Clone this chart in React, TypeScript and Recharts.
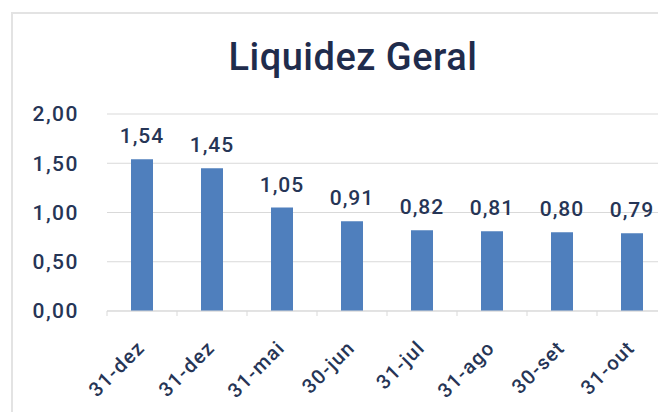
import { BarChart, Bar, XAxis, YAxis, CartesianGrid, LabelList } from 'recharts';

const categories = ['31-dez', '31-dez', '31-mai', '30-jun', '31-jul', '31-ago', '30-set', '31-out'];
const liquidez = [1.54, 1.45, 1.05, 0.91, 0.82, 0.81, 0.8, 0.79];
const yTicks = [0, 0.5, 1, 1.5, 2];

const data = categories.map((name, i) => ({ name, value: liquidez[i] }));

const CHART_W = 700;
const CHART_H = 412;
const PLOT_LEFT = 107;
const PLOT_RIGHT = 667;
const BAND = (PLOT_RIGHT - PLOT_LEFT) / categories.length;

const FONT = 'Roboto, sans-serif';
const TEXT_COLOR = '#263556';

const fmt = (v: number) => v.toFixed(2).replace('.', ',');

// category ticks sit on the band edges, labels rotated under the bar
const XTick = ({ x, y, payload, index }: any) => (
  <g>
    <line x1={x - BAND / 2} x2={x - BAND / 2} y1={y} y2={y + 5} stroke="#d9d9d9" />
    {index === categories.length - 1 && (
      <line x1={x + BAND / 2} x2={x + BAND / 2} y1={y} y2={y + 5} stroke="#d9d9d9" />
    )}
    <text
      x={0}
      y={0}
      transform={`translate(${x + 4},${y + 38}) rotate(-45)`}
      textAnchor="end"
      fontFamily={FONT}
      fontSize={20}
      fontWeight={500}
      letterSpacing={1.3}
      fill={TEXT_COLOR}
    >
      {payload.value}
    </text>
  </g>
);

const App = () => {
  return (
    <div
      style={{
        position: 'absolute',
        left: 0,
        top: 0,
        width: 658,
        height: 412,
        overflow: 'hidden',
        background: '#fff',
      }}
    >
      <div
        style={{
          position: 'absolute',
          left: 11,
          top: 12,
          width: 720,
          height: 440,
          border: '2px solid #e3e3e3',
          boxSizing: 'border-box',
        }}
      />
      <div
        style={{
          position: 'absolute',
          left: 0,
          width: 706,
          top: 34,
          textAlign: 'center',
          fontFamily: FONT,
          fontSize: 38,
          fontWeight: 500,
          letterSpacing: 0.5,
          color: '#1f2c4c',
          lineHeight: '46px',
        }}
      >
        Liquidez Geral
      </div>
      <div style={{ position: 'absolute', left: 0, top: 0 }}>
        <BarChart
          width={CHART_W}
          height={CHART_H}
          data={data}
          margin={{ top: 114, right: CHART_W - PLOT_RIGHT, left: 0, bottom: 0 }}
        >
          <CartesianGrid vertical={false} stroke="#d9d9d9" />
          <YAxis
            domain={[0, 2]}
            ticks={yTicks}
            width={PLOT_LEFT}
            axisLine={false}
            tickLine={false}
            tickSize={0}
            tickMargin={28}
            tickFormatter={fmt}
            tick={{ fontFamily: FONT, fontSize: 21, fontWeight: 500, fill: TEXT_COLOR, letterSpacing: 1.5 }}
          />
          <XAxis
            dataKey="name"
            interval={0}
            height={CHART_H - 311}
            axisLine={{ stroke: '#d9d9d9' }}
            tickLine={false}
            tickSize={0}
            tickMargin={0}
            tick={<XTick />}
          />
          <Bar dataKey="value" fill="#4f7fbd" barSize={22} isAnimationActive={false}>
            <LabelList
              dataKey="value"
              position="top"
              offset={16}
              formatter={(v: any) => fmt(Number(v))}
              style={{ fontFamily: FONT, fontSize: 21, fontWeight: 500, fill: TEXT_COLOR, letterSpacing: 1 }}
            />
          </Bar>
        </BarChart>
      </div>
    </div>
  );
};

export default App;
